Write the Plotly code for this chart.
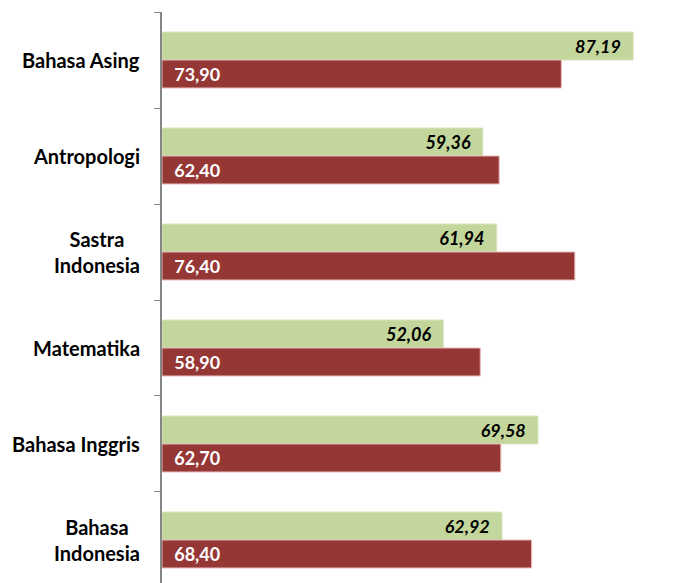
import plotly.graph_objects as go

categories = ["Bahasa Asing", "Antropologi", "Sastra<br>Indonesia", "Matematika",
              "Bahasa Inggris", "Bahasa<br>Indonesia"]
green_values = [87.19, 59.36, 61.94, 52.06, 69.58, 62.92]
red_values = [73.90, 62.40, 76.40, 58.90, 62.70, 68.40]

GREEN = "#C3D69B"
RED = "#953735"
FONT = "Lato"

fig = go.Figure()
fig.add_trace(go.Bar(
    y=categories, x=green_values, orientation="h", name="A",
    marker=dict(color=GREEN, line=dict(color="#D7E4BD", width=1)),
    texttemplate="<b><i>%{x:.2f}</i></b>  ", textposition="inside",
    insidetextanchor="end",
    insidetextfont=dict(family=FONT, size=18, color="black"),
))
fig.add_trace(go.Bar(
    y=categories, x=red_values, orientation="h", name="B",
    marker=dict(color=RED, line=dict(color="#E6B9B8", width=1)),
    texttemplate="  <b>%{x:.2f}</b>", textposition="inside",
    insidetextanchor="start",
    insidetextfont=dict(family=FONT, size=18, color="white"),
))

annotations = [
    dict(text="<b>" + c + "</b>", x=0, xref="paper", y=c, yref="y",
         xanchor="right", yanchor="middle", xshift=-20, align="center",
         showarrow=False, font=dict(family=FONT, size=20, color="black"))
    for c in categories
]

# page body has an 8px margin, so the figure is offset by (8, 8)
fig.update_layout(
    width=683, height=575,
    margin=dict(l=154, r=0, t=4, b=0),
    paper_bgcolor="white", plot_bgcolor="white",
    barmode="group", bargap=0.417, bargroupgap=0,
    separators=",.",
    showlegend=False,
    annotations=annotations,
)
fig.update_xaxes(range=[0, 97.9], visible=False, showgrid=False, zeroline=False)
fig.update_yaxes(
    type="category", categoryorder="array", categoryarray=categories,
    range=[5.448, -0.5], showticklabels=False,
    showline=True, linecolor="#868686", linewidth=2,
    ticks="outside", tickson="boundaries", ticklen=6, tickcolor="#868686", tickwidth=1,
    showgrid=False, zeroline=False,
)

fig.write_html("out.html")
